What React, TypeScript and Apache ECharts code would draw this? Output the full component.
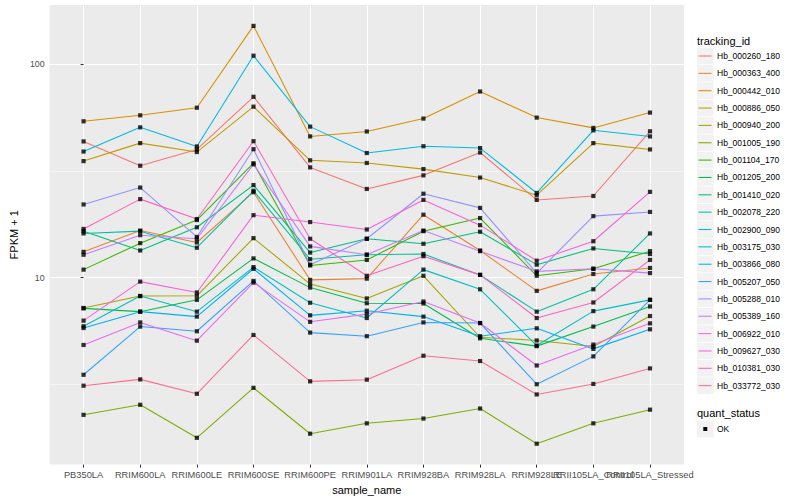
import React, { useEffect, useRef } from "react";
import * as echarts from "echarts";

const categories = [
  "PB350LA", "RRIM600LA", "RRIM600LE", "RRIM600SE", "RRIM600PE", "RRIM901LA",
  "RRIM928BA", "RRIM928LA", "RRIM928LE", "RRII105LA_Control", "RRII105LA_Stressed",
];

const trackingIds = [
  "Hb_000260_180", "Hb_000363_400", "Hb_000442_010", "Hb_000886_050", "Hb_000940_200",
  "Hb_001005_190", "Hb_001104_170", "Hb_001205_200", "Hb_001410_020", "Hb_002078_220",
  "Hb_002900_090", "Hb_003175_030", "Hb_003866_080", "Hb_005207_050", "Hb_005288_010",
  "Hb_005389_160", "Hb_006922_010", "Hb_009627_030", "Hb_010381_030", "Hb_033772_030",
];

const hueColors = [
  "#F8766D", "#EA8331", "#D89000", "#C09B00", "#A3A500", "#7CAE00", "#39B600", "#00BB4E",
  "#00BF7D", "#00C1A3", "#00BFC4", "#00BAE0", "#00B0F6", "#35A2FF", "#9590FF", "#C77CFF",
  "#E76BF3", "#FA62DB", "#FF62BC", "#FF6C91",
];

// FPKM + 1 per sample, in category order
const hb000260_180 = [43.4, 33.4, 39.8, 70.2, 32.8, 26.0, 30.1, 38.5, 23.1, 24.1, 48.4];
const hb000363_400 = [13.2, 16.6, 14.6, 25.1, 9.76, 9.89, 19.7, 13.4, 8.67, 10.4, 11.1];
const hb000442_010 = [53.9, 57.5, 62.4, 150.7, 45.8, 48.3, 55.5, 74.3, 56.1, 50.2, 59.2];
const hb000886_050 = [35.1, 42.6, 38.7, 63.1, 35.4, 34.4, 32.2, 29.4, 24.3, 42.6, 39.8];
const hb000940_200 = [7.21, 8.2, 8.22, 15.3, 9.33, 7.99, 10.2, 5.26, 5.08, 4.76, 6.61];
const hb001005_190 = [2.28, 2.54, 1.78, 3.05, 1.86, 2.08, 2.19, 2.44, 1.67, 2.08, 2.41];
const hb001104_170 = [10.9, 14.5, 18.6, 34.3, 11.4, 12.1, 16.5, 19.0, 10.2, 11.0, 13.3];
const hb001205_200 = [7.18, 6.93, 7.87, 12.3, 8.98, 7.59, 7.57, 5.2, 4.78, 5.9, 7.33];
const hb001410_020 = [16.5, 13.4, 17.2, 27.1, 13.1, 15.2, 14.4, 16.4, 11.5, 13.7, 12.9];
const hb002078_220 = [16.1, 16.5, 13.8, 25.5, 12.2, 12.8, 12.9, 10.3, 6.93, 8.82, 16.1];
const hb002900_090 = [5.92, 8.2, 6.93, 11.2, 7.63, 6.47, 10.9, 8.82, 4.81, 6.97, 7.87];
const hb003175_030 = [38.9, 50.5, 41.1, 109.3, 50.9, 38.3, 41.2, 40.4, 24.9, 48.9, 45.8];
const hb003866_080 = [5.81, 6.93, 6.57, 11.0, 6.66, 7.0, 6.57, 5.32, 5.79, 4.64, 5.73];
const hb005207_050 = [3.51, 5.9, 5.61, 9.65, 5.53, 5.32, 6.17, 6.13, 3.17, 4.28, 7.87];
const hb005288_010 = [22.0, 26.4, 15.5, 39.9, 11.5, 15.2, 24.7, 21.2, 10.5, 19.4, 20.3];
const hb005389_160 = [12.8, 15.8, 15.2, 33.9, 14.0, 12.8, 16.6, 13.3, 10.7, 11.0, 10.5];
const hb006922_010 = [4.84, 6.17, 5.07, 9.48, 6.21, 6.75, 7.73, 6.13, 3.88, 4.86, 6.11];
const hb009627_030 = [6.29, 9.58, 8.52, 19.6, 18.2, 16.8, 23.1, 17.6, 12.0, 14.8, 25.2];
const hb010381_030 = [16.9, 23.3, 18.8, 43.5, 15.2, 10.2, 12.6, 10.3, 6.47, 7.65, 12.1];
const hb033772_030 = [3.12, 3.34, 2.86, 5.39, 3.27, 3.33, 4.31, 4.07, 2.84, 3.18, 3.76];

const seriesValues = [
  hb000260_180, hb000363_400, hb000442_010, hb000886_050, hb000940_200,
  hb001005_190, hb001104_170, hb001205_200, hb001410_020, hb002078_220,
  hb002900_090, hb003175_030, hb003866_080, hb005207_050, hb005288_010,
  hb005389_160, hb006922_010, hb009627_030, hb010381_030, hb033772_030,
];

const yMajorTicks = [10, 100];
const yMinorTicks = [Math.sqrt(10), Math.sqrt(1000)];
const quantStatus = ["OK"];

const FONT = "'Liberation Sans', Arial, Helvetica, sans-serif";

export default function App() {
  const ref = useRef<HTMLDivElement>(null);

  useEffect(() => {
    if (!ref.current) return;
    const chart = echarts.init(ref.current, null, { renderer: "svg" });

    const logs = seriesValues.flat().map((v) => Math.log10(v));
    const lo = Math.min(...logs);
    const hi = Math.max(...logs);
    const pad = (hi - lo) * 0.05;
    const yMin = lo - pad;
    const yMax = hi + pad;

    const catIdx = categories.map((_, i) => i);
    // labels are split over two axes so that overlapping neighbours both stay visible
    const evenIdx = catIdx.filter((i) => i % 2 === 0);
    const oddIdx = catIdx.filter((i) => i % 2 === 1);

    const lineSeries = seriesValues.map((vals, k) => ({
      type: "line",
      name: trackingIds[k],
      xAxisIndex: 0,
      yAxisIndex: 0,
      data: vals.map((v, i) => [i, Math.log10(v)]),
      symbol: "none",
      showSymbol: false,
      silent: true,
      z: 2,
      lineStyle: { color: hueColors[k], width: 1.07 },
      itemStyle: { color: hueColors[k] },
    }));

    const points: number[][] = [];
    seriesValues.forEach((vals) => vals.forEach((v, i) => points.push([i, Math.log10(v)])));

    const graphics: any[] = [];
    graphics.push({
      type: "text",
      style: { text: "tracking_id", x: 697, y: 40.5, verticalAlign: "middle", fontSize: 11, fill: "#000", fontFamily: FONT },
    });
    trackingIds.forEach((id, k) => {
      const cy = 56 + k * 17.35;
      graphics.push({
        type: "rect",
        shape: { x: 697, y: cy - 8.3, width: 16.6, height: 16.6 },
        style: { fill: "#F2F2F2" },
      });
      graphics.push({
        type: "line",
        shape: { x1: 698.5, y1: cy, x2: 711.5, y2: cy },
        style: { stroke: hueColors[k], lineWidth: 1.07 },
      });
      graphics.push({
        type: "text",
        style: { text: id, x: 717, y: cy, verticalAlign: "middle", fontSize: 8.5, fill: "#000", fontFamily: FONT },
      });
    });
    graphics.push({
      type: "text",
      style: { text: "quant_status", x: 697, y: 412.5, verticalAlign: "middle", fontSize: 11, fill: "#000", fontFamily: FONT },
    });
    quantStatus.forEach((s, k) => {
      const cy = 429 + k * 17.35;
      graphics.push({ type: "rect", shape: { x: 697, y: cy - 8.3, width: 16.6, height: 16.6 }, style: { fill: "#F2F2F2" } });
      graphics.push({ type: "rect", shape: { x: 703.3, y: cy - 2, width: 4, height: 4 }, style: { fill: "#000" } });
      graphics.push({
        type: "text",
        style: { text: s, x: 717, y: cy, verticalAlign: "middle", fontSize: 8.5, fill: "#000", fontFamily: FONT },
      });
    });

    const xLabelStyle = {
      formatter: (v: number) => categories[Math.round(v)] ?? "",
      color: "#4D4D4D", fontSize: 9.3, fontFamily: FONT, margin: 5.5,
      hideOverlap: false, showMinLabel: true, showMaxLabel: true,
    };

    chart.setOption({
      animation: false,
      backgroundColor: "#FFFFFF",
      grid: {
        left: 40, top: 5, width: 644, height: 463,
        show: true, backgroundColor: "#EBEBEB", borderWidth: 0,
        containLabel: false,
      },
      xAxis: [
        {
          type: "value",
          min: -0.6,
          max: 10.6,
          position: "bottom",
          axisLine: { show: false },
          axisTick: { show: true, customValues: catIdx, length: 3, lineStyle: { color: "#333333", width: 1 } },
          axisLabel: { ...xLabelStyle, customValues: evenIdx },
          splitLine: { show: true, lineStyle: { color: "#FFFFFF", width: 1.07 } },
          name: "sample_name",
          nameLocation: "middle",
          nameGap: 15.5,
          nameTextStyle: { fontSize: 11, color: "#000", fontFamily: FONT },
        },
        {
          type: "value",
          min: -0.6,
          max: 10.6,
          position: "bottom",
          offset: 0,
          axisLine: { show: false },
          axisTick: { show: false, customValues: oddIdx },
          axisLabel: { ...xLabelStyle, customValues: oddIdx },
          splitLine: { show: false },
        },
      ],
      yAxis: [
        {
          type: "value",
          min: yMin,
          max: yMax,
          position: "left",
          axisLine: { show: false },
          axisTick: { show: true, customValues: yMajorTicks.map(Math.log10), length: 3, lineStyle: { color: "#333333", width: 1 } },
          axisLabel: {
            customValues: yMajorTicks.map(Math.log10),
            formatter: (v: number) => String(Math.round(Math.pow(10, v))),
            color: "#4D4D4D", fontSize: 8.8, fontFamily: FONT, margin: 5,
            showMinLabel: true, showMaxLabel: true,
          },
          splitLine: { show: true, lineStyle: { color: "#FFFFFF", width: 1.07 } },
          name: "FPKM + 1",
          nameLocation: "middle",
          nameGap: 23,
          nameRotate: 90,
          nameTextStyle: { fontSize: 11, color: "#000", fontFamily: FONT },
        },
        {
          type: "value",
          min: yMin,
          max: yMax,
          position: "left",
          axisLine: { show: false },
          axisTick: { show: false, customValues: yMinorTicks.map(Math.log10) },
          axisLabel: { show: false, customValues: yMinorTicks.map(Math.log10) },
          splitLine: { show: true, lineStyle: { color: "#FFFFFF", width: 0.53 } },
        },
      ],
      series: [
        ...lineSeries,
        {
          type: "scatter",
          xAxisIndex: 0,
          yAxisIndex: 0,
          data: points,
          symbol: "rect",
          symbolSize: 4.2,
          silent: true,
          z: 3,
          itemStyle: { color: "#000000" },
        },
      ],
      graphic: graphics,
    });

    return () => chart.dispose();
  }, []);

  return (
    <div
      ref={ref}
      style={{ position: "fixed", left: 0, top: 0, width: 800, height: 500, background: "#fff" }}
    />
  );
}
